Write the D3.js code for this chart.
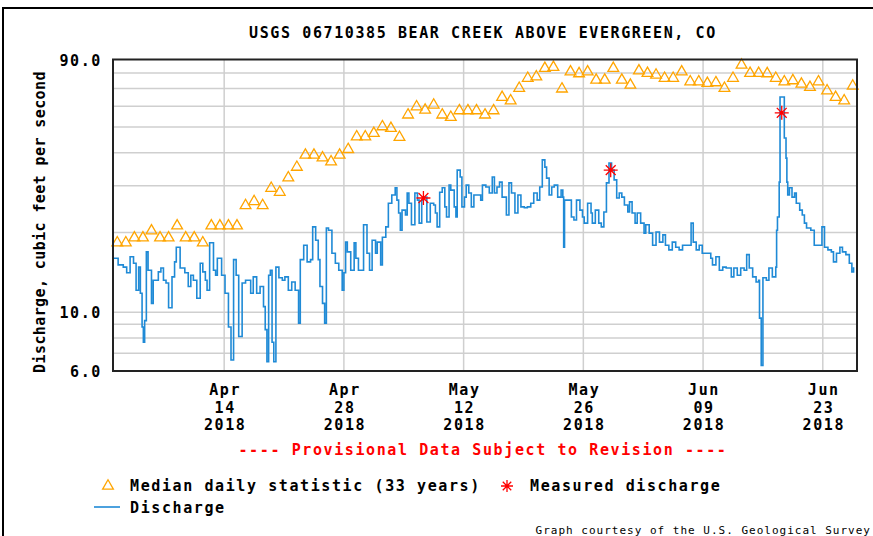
<!DOCTYPE html>
<html lang="en">
<head>
<meta charset="UTF-8">
<title>USGS 06710385 Bear Creek above Evergreen, CO</title>
<script src="https://d3js.org/d3.v7.min.js"></script>
<style>
    body { margin: 0; background: #fff; }
    svg text { font-family: "DejaVu Sans Mono", monospace; font-weight: bold; font-size: 15px; letter-spacing: 1.6px; fill: #000; }
</style>
</head>
<body>
<svg id="chart" width="873" height="536"></svg>
<script>
    // data (cfs, log scale), days counted from 2018-04-01
    const stationTitle = "USGS 06710385 BEAR CREEK ABOVE EVERGREEN, CO";
    const startDay = new Date(Date.UTC(2018, 3, 1));
    const endDay = new Date(Date.UTC(2018, 5, 27));

    // one median value per day, Apr 1 .. Jun 26
    const medianCfs = [
        18.3, 18.3, 19.1, 19.1, 20.3, 19.1, 19.1, 21.2, 19.1, 19.1,
        18.3, 21.2, 21.2, 21.2, 21.2, 25.3, 26.2, 25.3, 29.4, 28.4,
        32.2, 35.3, 39.2, 39.2, 38.3, 37.0, 39.2, 41.2, 46.0, 46.0,
        47.4, 50.2, 49.5, 45.8, 55.6, 59.7, 58.0, 60.6, 55.6, 54.5,
        57.7, 57.7, 57.7, 55.6, 57.7, 64.8, 62.9, 70.1, 76.5, 77.5,
        83.4, 84.1, 69.7, 80.9, 79.6, 80.9, 75.3, 75.3, 83.4, 75.3,
        72.1, 81.6, 79.8, 78.7, 76.5, 76.5, 80.9, 74.2, 74.2, 73.2,
        73.6, 70.1, 76.5, 85.8, 79.8, 79.8, 79.6, 76.5, 74.2, 74.9,
        72.7, 70.7, 74.2, 68.6, 64.8, 62.9, 71.5
    ];

    // [day, cfs]
    const dischargeReadings = [
        [0.0, 16.0], [0.6, 15.1], [1.2, 14.8], [1.6, 14.1], [2.0, 16.2], [2.4, 15.3], [2.7, 12.1],
        [3.0, 14.8], [3.2, 11.8], [3.4, 8.8], [3.55, 7.7], [3.7, 9.3], [3.9, 16.9], [4.1, 14.4],
        [4.5, 10.8], [4.7, 13.2], [5.3, 14.2], [5.6, 14.7], [5.9, 13.2], [6.2, 12.9], [6.5, 10.4],
        [6.9, 13.6], [7.2, 15.5], [7.4, 17.6], [7.85, 14.7], [8.4, 14.1], [8.8, 12.5], [9.1, 13.8],
        [9.4, 13.2], [9.8, 11.3], [10.2, 15.3], [10.5, 14.2], [10.8, 13.2], [11.0, 12.1], [11.3, 18.3],
        [11.75, 14.4], [12.0, 13.8], [12.2, 16.0], [12.7, 13.8], [13.1, 11.8], [13.5, 8.8], [13.8, 6.6],
        [14.1, 15.8], [14.4, 13.8], [14.7, 8.1], [15.1, 12.9], [15.5, 13.2], [16.1, 11.8], [16.4, 13.6],
        [16.8, 11.8], [17.2, 12.5], [17.6, 10.5], [17.8, 8.6], [18.0, 6.5], [18.2, 13.8], [18.4, 14.4],
        [18.6, 7.7], [18.8, 6.5], [19.05, 14.8], [19.4, 13.5], [19.8, 13.2], [20.1, 13.6], [20.5, 12.1],
        [20.9, 13.0], [21.3, 12.1], [21.7, 9.1], [21.9, 15.8], [22.3, 17.9], [22.7, 15.5], [23.1, 15.8],
        [23.35, 21.0], [23.7, 18.7], [24.0, 15.8], [24.2, 12.5], [24.5, 10.8], [24.75, 9.1], [24.95, 20.8],
        [25.2, 20.4], [25.6, 16.7], [26.0, 15.3], [26.4, 14.4], [26.8, 12.1], [27.0, 14.1], [27.2, 18.4],
        [27.4, 16.9], [27.8, 14.4], [28.2, 18.3], [28.4, 16.0], [28.7, 14.4], [29.3, 21.4], [29.7, 16.7],
        [30.0, 14.4], [30.3, 18.7], [30.7, 16.7], [30.9, 18.4], [31.3, 15.1], [31.5, 19.2], [31.9, 21.0],
        [32.2, 25.8], [32.6, 27.7], [33.0, 29.5], [33.2, 26.5], [33.4, 23.7], [33.6, 20.4], [33.8, 24.3],
        [34.2, 23.3], [34.4, 28.2], [34.6, 25.8], [34.9, 21.4], [35.3, 28.2], [35.6, 26.5], [35.8, 21.7],
        [36.1, 26.5], [36.3, 27.2], [36.7, 21.9], [37.1, 25.8], [37.5, 25.4], [37.7, 23.7], [37.9, 21.0],
        [38.2, 28.4], [38.5, 29.5], [38.8, 25.0], [39.0, 22.9], [39.3, 30.2], [39.5, 28.9], [39.9, 25.0],
        [40.1, 22.9], [40.25, 34.4], [40.6, 32.4], [40.8, 25.0], [41.1, 27.2], [41.3, 30.2], [41.6, 28.2],
        [41.9, 25.0], [42.2, 27.7], [42.6, 27.7], [43.0, 26.5], [43.2, 30.2], [43.6, 29.7], [44.0, 28.2],
        [44.35, 32.4], [44.6, 28.2], [44.9, 29.7], [45.2, 31.0], [45.5, 27.2], [46.0, 23.3], [46.3, 30.8],
        [46.6, 28.2], [47.0, 23.7], [47.35, 27.7], [47.7, 25.0], [48.1, 24.8], [48.45, 25.0], [48.85, 25.8],
        [49.2, 28.2], [49.6, 26.5], [49.9, 29.7], [50.2, 37.6], [50.5, 35.3], [50.7, 32.1], [51.0, 27.7],
        [51.3, 29.7], [51.6, 30.2], [52.0, 27.2], [52.4, 28.9], [52.6, 27.2], [52.7, 17.6], [52.8, 26.5],
        [53.3, 26.5], [53.6, 22.9], [53.9, 22.3], [54.2, 26.5], [54.6, 24.3], [54.9, 22.9], [55.1, 21.7],
        [55.5, 25.8], [55.9, 23.7], [56.05, 21.7], [56.4, 24.3], [56.8, 21.7], [57.1, 21.0], [57.4, 23.9],
        [57.7, 30.8], [58.0, 36.6], [58.3, 34.4], [58.6, 31.6], [58.9, 27.0], [59.2, 28.2], [59.5, 27.2],
        [59.8, 25.4], [60.2, 23.9], [60.4, 26.1], [60.7, 23.7], [61.05, 21.7], [61.3, 23.7], [61.7, 21.7],
        [62.1, 19.9], [62.3, 21.4], [62.7, 19.9], [63.1, 17.9], [63.5, 20.1], [63.9, 18.4], [64.3, 19.6],
        [64.6, 17.9], [65.0, 17.2], [65.4, 18.4], [65.8, 17.6], [66.2, 17.2], [66.6, 17.9], [67.4, 17.9],
        [67.6, 21.7], [67.85, 18.4], [68.2, 17.2], [68.55, 17.9], [68.9, 16.7], [69.5, 16.7], [69.9, 16.0],
        [70.1, 15.1], [70.5, 16.2], [70.9, 14.4], [71.3, 14.8], [71.7, 14.7], [72.3, 13.6], [72.6, 14.7],
        [73.0, 13.8], [73.4, 14.7], [73.8, 14.4], [74.1, 16.5], [74.4, 14.7], [74.8, 13.6], [75.2, 13.0],
        [75.5, 13.2], [75.6, 9.5], [75.8, 6.3], [76.0, 13.5], [76.4, 13.2], [76.7, 14.7], [77.1, 13.6],
        [77.5, 14.8], [77.6, 20.4], [77.7, 22.9], [77.9, 31.0], [78.0, 65.0], [78.3, 65.0], [78.5, 45.5],
        [78.7, 38.2], [78.8, 31.0], [78.9, 27.7], [79.1, 29.5], [79.4, 27.2], [79.7, 28.2], [79.9, 25.8],
        [80.3, 24.3], [80.6, 23.3], [80.85, 21.7], [81.1, 20.8], [81.6, 20.4], [82.0, 17.9], [82.6, 17.9],
        [82.9, 21.0], [83.2, 17.6], [83.6, 17.2], [84.0, 16.9], [84.25, 15.5], [84.6, 16.7], [85.0, 17.6],
        [85.3, 16.9], [85.7, 16.5], [86.1, 15.3], [86.4, 14.2], [86.6, 14.8]
    ];

    // [day, cfs]
    const measuredReadings = [[36.3, 27.0], [58.2, 34.4], [78.2, 56.6]];

    const tickDates = ["2018-04-14", "2018-04-28", "2018-05-12", "2018-05-26", "2018-06-09", "2018-06-23"];
    const gridCfs = [7, 8, 9, 10, 20, 30, 40, 50, 60, 70, 80];
    const labelCfs = [90, 10, 6];

    const medianColor = "#ffa500";
    const lineColor = "#1f8ad6";
    const starColor = "#ff0000";

    const dayToDate = d => new Date(startDay.getTime() + d * 864e5);

    const svg = d3.select("#chart");
    const margin = { left: 113, right: 857, top: 59.5, bottom: 371 };

    const x = d3.scaleUtc().domain([startDay, endDay]).range([margin.left, margin.right]);
    const y = d3.scaleLog().domain([6, 90]).range([margin.bottom, margin.top]);

    // page frame
    svg.append("rect")
        .attr("x", 3).attr("y", 8)
        .attr("width", 900).attr("height", 600)
        .attr("fill", "none").attr("stroke", "#000").attr("stroke-width", 2);

    svg.append("text")
        .attr("x", 483).attr("y", 38)
        .attr("text-anchor", "middle")
        .text(stationTitle);

    // grid
    svg.append("g").selectAll("line")
        .data(gridCfs)
        .join("line")
        .attr("x1", margin.left).attr("x2", margin.right)
        .attr("y1", d => y(d)).attr("y2", d => y(d))
        .attr("stroke", "#cfcfcf").attr("stroke-width", 1.5);

    const tickParsed = tickDates.map(s => new Date(s + "T00:00:00Z"));
    svg.append("g").selectAll("line")
        .data(tickParsed)
        .join("line")
        .attr("x1", d => x(d)).attr("x2", d => x(d))
        .attr("y1", margin.top).attr("y2", margin.bottom)
        .attr("stroke", "#cfcfcf").attr("stroke-width", 1.5);

    // x labels
    const xLab = svg.append("g").selectAll("text")
        .data(tickParsed)
        .join("text")
        .attr("text-anchor", "middle");
    xLab.append("tspan").attr("x", d => x(d) + 1).attr("y", 395).text(d3.utcFormat("%b"));
    xLab.append("tspan").attr("x", d => x(d) + 1).attr("y", 413).text(d3.utcFormat("%d"));
    xLab.append("tspan").attr("x", d => x(d) + 1).attr("y", 430).text(d3.utcFormat("%Y"));

    // y labels
    svg.append("g").selectAll("text")
        .data(labelCfs)
        .join("text")
        .attr("x", 102)
        .attr("y", d => y(d) + 6)
        .attr("text-anchor", "end")
        .text(d3.format(".1f"));

    svg.append("text")
        .attr("transform", "translate(45,222) rotate(-90)")
        .attr("text-anchor", "middle")
        .style("letter-spacing", "0.4px")
        .text("Discharge, cubic feet per second");

    // discharge line
    const plot = svg.append("g");
    plot.append("path")
        .datum(dischargeReadings)
        .attr("fill", "none")
        .attr("stroke", lineColor)
        .attr("stroke-width", 1.6)
        .attr("d", d3.line()
            .curve(d3.curveStepAfter)
            .x(d => x(dayToDate(d[0])))
            .y(d => y(d[1])));

    // median triangles
    const tri = d3.symbol().type(d3.symbolTriangle).size(50);
    plot.selectAll(".median")
        .data(medianCfs)
        .join("path")
        .attr("class", "median")
        .attr("d", tri)
        .attr("transform", (d, i) => `translate(${x(dayToDate(i + 0.5))},${y(d)})`)
        .attr("fill", "none")
        .attr("stroke", medianColor)
        .attr("stroke-width", 1.3);

    // measured discharge stars
    const starPath = r => {
        const a = r * Math.SQRT1_2;
        return `M${-r},0L${r},0M0,${-r}L0,${r}M${-a},${-a}L${a},${a}M${-a},${a}L${a},${-a}`;
    };
    plot.selectAll(".measured")
        .data(measuredReadings)
        .join("path")
        .attr("class", "measured")
        .attr("d", starPath(7))
        .attr("transform", d => `translate(${x(dayToDate(d[0]))},${y(d[1])})`)
        .attr("stroke", starColor)
        .attr("stroke-width", 1.3);

    // plot border
    svg.append("rect")
        .attr("x", margin.left).attr("y", margin.top)
        .attr("width", margin.right - margin.left)
        .attr("height", margin.bottom - margin.top)
        .attr("fill", "none").attr("stroke", "#222").attr("stroke-width", 2);

    svg.append("text")
        .attr("x", 483).attr("y", 455)
        .attr("text-anchor", "middle")
        .style("fill", starColor)
        .text("---- Provisional Data Subject to Revision ----");

    // legend
    svg.append("path")
        .attr("d", tri)
        .attr("transform", "translate(108,486)")
        .attr("fill", "none").attr("stroke", medianColor).attr("stroke-width", 1.3);
    svg.append("text").attr("x", 130).attr("y", 491).text("Median daily statistic (33 years)");

    svg.append("path")
        .attr("d", starPath(6))
        .attr("transform", "translate(507,486)")
        .attr("stroke", starColor).attr("stroke-width", 1.3);
    svg.append("text").attr("x", 530).attr("y", 491).text("Measured discharge");

    svg.append("line")
        .attr("x1", 94).attr("x2", 120).attr("y1", 507).attr("y2", 507)
        .attr("stroke", lineColor).attr("stroke-width", 1.6);
    svg.append("text").attr("x", 130).attr("y", 513).text("Discharge");

    svg.append("text")
        .attr("x", 871).attr("y", 534)
        .attr("text-anchor", "end")
        .style("font-weight", "normal")
        .style("font-size", "11px")
        .style("letter-spacing", "1px")
        .text("Graph courtesy of the U.S. Geological Survey");
</script>
</body>
</html>
